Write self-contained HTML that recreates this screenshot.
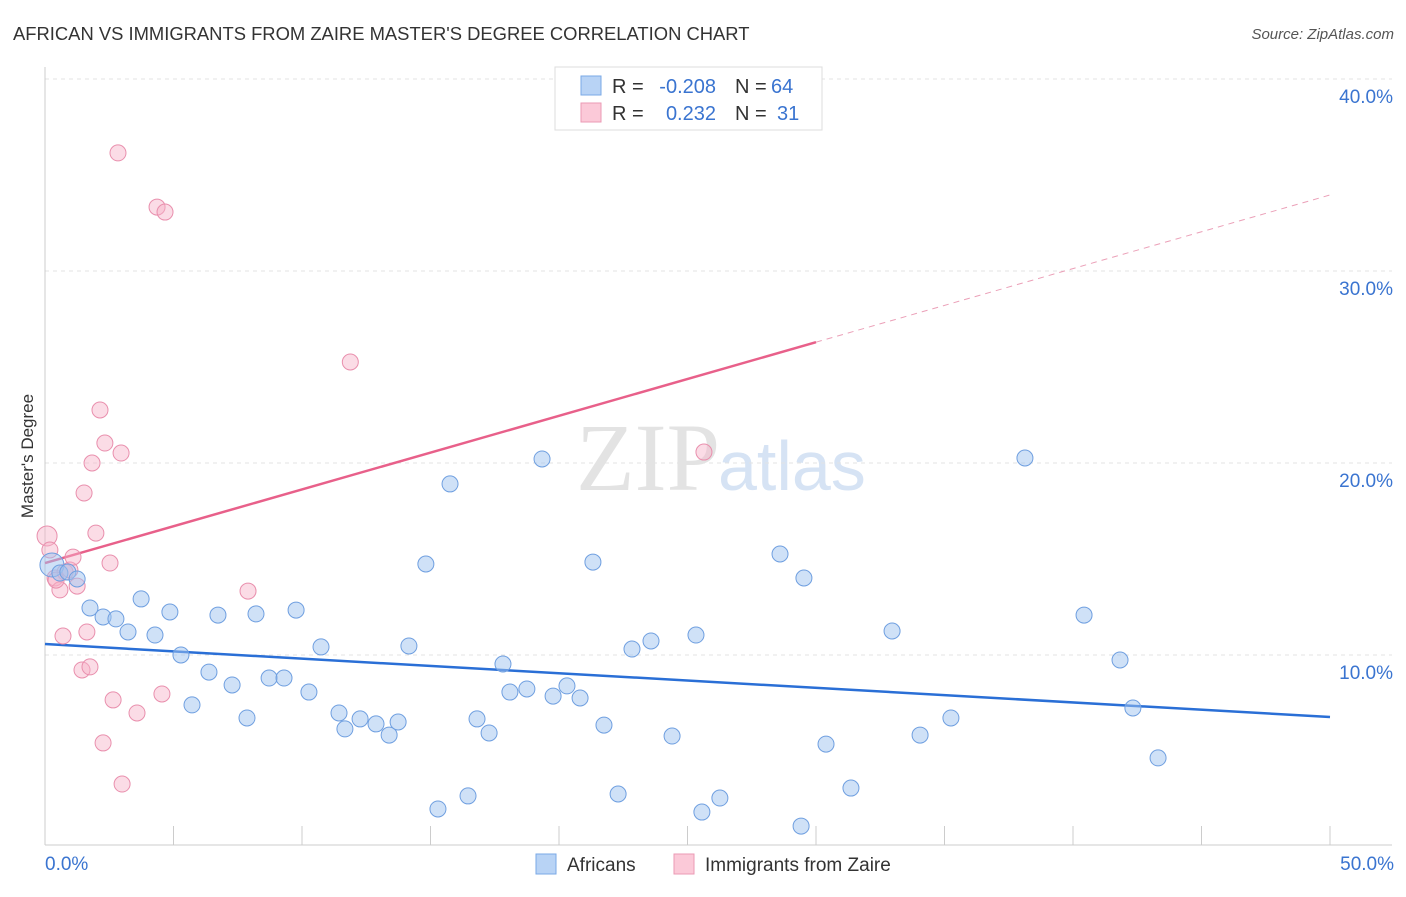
<!DOCTYPE html>
<html><head><meta charset="utf-8"><style>
body{margin:0;background:#fff;font-family:"Liberation Sans",sans-serif;}
</style></head><body>
<svg width="1406" height="892" xmlns="http://www.w3.org/2000/svg" id="chart" font-family="Liberation Sans, sans-serif">
<text x="13" y="40" font-size="18.4" fill="#333">AFRICAN VS IMMIGRANTS FROM ZAIRE MASTER'S DEGREE CORRELATION CHART</text>
<text x="1394" y="39" font-size="15" fill="#555" font-style="italic" text-anchor="end">Source: ZipAtlas.com</text>
<text transform="translate(33,456) rotate(-90)" font-size="17" fill="#333" text-anchor="middle">Master's Degree</text>
<text x="720" y="490" font-size="96" fill="#d8d8d8" text-anchor="end" font-family="Liberation Serif, serif" opacity="0.7">ZIP</text>
<text x="718" y="490" font-size="70" fill="#c5d8f0" opacity="0.7">atlas</text>
<g id="grid"></g><g id="axes"></g><g id="trend"></g><g id="pts"></g>
<g>
<rect x="555" y="67" width="267" height="63" fill="#fff" stroke="#ddd"/>
<rect x="581" y="76" width="20" height="19" fill="#b8d3f5" stroke="#7aa8e6"/>
<rect x="581" y="103" width="20" height="19" fill="#fbc9d8" stroke="#eb9ab4"/>
<text x="612" y="93" font-size="20" fill="#333">R =</text>
<text x="716" y="93" font-size="20" fill="#3a74d0" text-anchor="end">-0.208</text>
<text x="735" y="93" font-size="20" fill="#333">N =</text>
<text x="771" y="93" font-size="20" fill="#3a74d0">64</text>
<text x="612" y="120" font-size="20" fill="#333">R =</text>
<text x="716" y="120" font-size="20" fill="#3a74d0" text-anchor="end">0.232</text>
<text x="735" y="120" font-size="20" fill="#333">N =</text>
<text x="777" y="120" font-size="20" fill="#3a74d0">31</text>
</g>
<g>
<rect x="536" y="854" width="20" height="20" fill="#b8d3f5" stroke="#7aa8e6"/>
<text x="567" y="871" font-size="19" fill="#333">Africans</text>
<rect x="674" y="854" width="20" height="20" fill="#fbc9d8" stroke="#eb9ab4"/>
<text x="705" y="871" font-size="19" fill="#333">Immigrants from Zaire</text>
</g>
</svg>
<script>
const yTicks=[10,20,30,40];
const yTickLabels=["10.0%","20.0%","30.0%","40.0%"];
const xTicks=[0,5,10,15,20,25,30,35,40,45,50];
const xEndLabels=["0.0%","50.0%"];
const africansX=[0.27,0.58,0.89,1.25,1.75,2.26,2.76,3.23,3.74,4.28,4.86,5.29,5.72,6.38,6.73,7.28,7.86,8.21,8.72,9.30,9.77,10.27,10.74,11.44,11.67,12.26,12.88,13.39,13.74,14.16,14.82,15.29,15.76,16.46,16.81,17.28,17.82,18.09,18.75,19.34,19.77,20.31,20.82,21.32,21.75,22.30,22.84,23.58,24.40,25.33,25.56,26.26,28.60,29.42,29.53,30.39,31.36,32.96,34.05,35.25,38.13,40.43,41.83,42.33,43.31];
const africansY=[14.69,14.27,14.32,13.96,12.45,11.98,11.88,11.20,12.92,11.04,12.24,10.00,7.40,9.11,12.08,8.44,6.72,12.14,8.80,8.80,12.34,8.07,10.42,6.98,6.15,6.67,6.41,5.83,6.51,10.47,14.74,1.98,18.91,2.66,6.67,5.94,9.53,8.07,8.23,20.21,7.86,8.39,7.76,14.84,6.35,2.76,10.31,10.73,5.78,11.04,1.82,2.55,15.26,1.09,14.01,5.36,3.07,11.25,5.83,6.72,20.26,12.08,9.74,7.24,4.64];
const zaireX=[0.08,0.19,0.39,0.58,0.78,0.97,1.09,1.25,0.70,1.63,1.44,1.75,1.52,1.83,1.98,2.14,2.33,2.53,2.65,2.26,2.84,2.96,3.00,3.58,4.36,4.55,4.67,7.90,11.88,25.64,0.43];
const zaireY=[16.20,15.47,14.01,13.39,14.32,14.43,15.10,13.59,10.99,11.20,9.22,9.38,18.44,20.00,16.35,22.76,21.04,14.79,7.66,5.42,36.15,20.52,3.28,6.98,33.33,7.97,33.07,13.33,25.26,20.57,13.9];
const africanTrend=[10.57,6.77];
const zaireTrend=[14.79,33.96];
const zaireSolidEnd=30;
const NS="http://www.w3.org/2000/svg";
const X=v=>45+v*25.7, Y=v=>847-v*19.2;
function mk(t,a,p){const e=document.createElementNS(NS,t);for(const k in a)e.setAttribute(k,a[k]);p.appendChild(e);return e;}
const grid=document.getElementById('grid'),axes=document.getElementById('axes'),trend=document.getElementById('trend'),pts=document.getElementById('pts');
yTicks.forEach((t,i)=>{
 const l=mk('line',{x1:45,x2:1392,y1:Y(t),y2:Y(t),stroke:'#e3e3e3','stroke-dasharray':'4,4'},grid);
 
 
 const tx=mk('text',{x:1393,y:Y(t)+24,'font-size':19,fill:'#3a74d0','text-anchor':'end'},axes);
 tx.textContent=yTickLabels[i];
 
 
});
const ax=mk('line',{x1:45,x2:1392,y1:845,y2:845,stroke:'#ccc'},axes);


const ay=mk('line',{x1:45,x2:45,y1:67,y2:845,stroke:'#ccc'},axes);


xTicks.forEach(t=>{
 const l=mk('line',{x1:X(t),x2:X(t),y1:826,y2:845,stroke:'#ccc'},axes);
 
 
});
[[0,'start',45],[50,'end',1394]].forEach((d,i)=>{
 const tx=mk('text',{x:d[2],y:870,'font-size':19,fill:'#3a74d0','text-anchor':d[1]},axes);
 tx.textContent=xEndLabels[i];
 
 
});
const zy=x=>zaireTrend[0]+(zaireTrend[1]-zaireTrend[0])*x/50;
const t1=mk('line',{x1:X(0),y1:Y(zy(0)),x2:X(zaireSolidEnd),y2:Y(zy(zaireSolidEnd)),stroke:'#e8608a','stroke-width':2.5},trend);


const t2=mk('line',{x1:X(zaireSolidEnd),y1:Y(zy(zaireSolidEnd)),x2:X(50),y2:Y(zy(50)),stroke:'#eba0b8','stroke-width':1,'stroke-dasharray':'6,5'},trend);


const t3=mk('line',{x1:X(0),y1:Y(africanTrend[0]),x2:X(50),y2:Y(africanTrend[1]),stroke:'#2a6fd6','stroke-width':2.5},trend);


zaireX.forEach((x,i)=>{
 const c=mk('circle',{cx:X(x),cy:Y(zaireY[i]),r:i==0?10:8,fill:'rgba(247,178,200,0.45)',stroke:'#e98fad','stroke-width':1},pts);
 
 
});
africansX.forEach((x,i)=>{
 const c=mk('circle',{cx:X(x),cy:Y(africansY[i]),r:i==0?12:8,fill:'rgba(160,195,240,0.5)',stroke:'#6f9fe0','stroke-width':1},pts);
 
 
});
</script>
</body></html>
